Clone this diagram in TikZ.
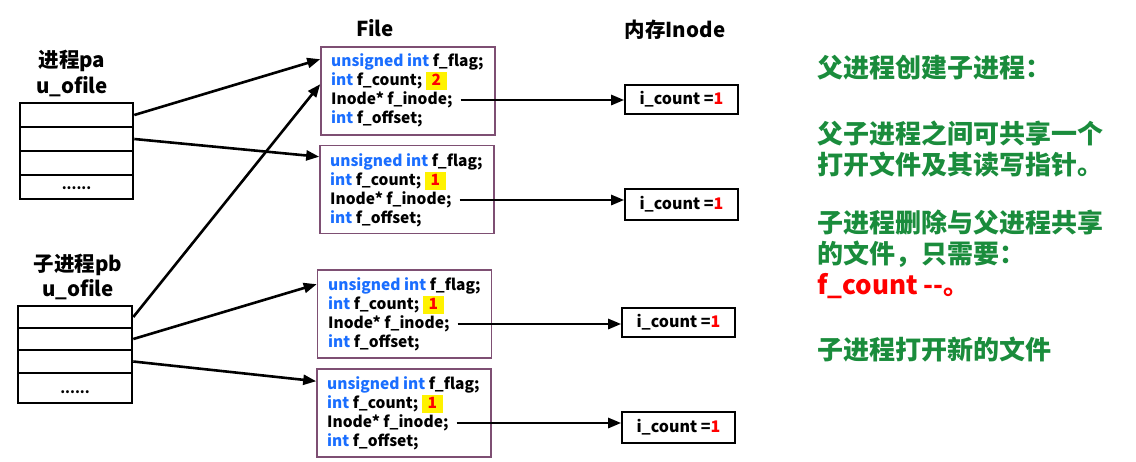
\documentclass[tikz,border=0pt]{standalone}
\usepackage{fontspec}
\setmainfont{Noto Sans CJK SC}
\usetikzlibrary{arrows.meta,calc}
\definecolor{boxpurple}{HTML}{7E4F73}
\definecolor{kwblue}{HTML}{1A6EFF}
\definecolor{txtgreen}{HTML}{1A8C3C}
\newcommand{\kw}[1]{\textcolor{kwblue}{#1}}
\newcommand{\hlnum}[1]{{\fboxsep=0.5pt\colorbox{yellow}{\rule[-4.5pt]{0pt}{17pt}\makebox[20pt]{\textcolor{red}{#1}}}}}
\tikzset{
  cell/.style={draw=black, line width=2.6pt, minimum width=113pt, inner sep=0pt},
  filebox/.style={draw=boxpurple, line width=1.6pt, minimum width=174pt, minimum height=88pt, inner sep=0pt},
  codeline/.style={anchor=west, inner sep=0pt, font=\fontsize{15.5}{18}\selectfont\bfseries},
  inodebox/.style={draw=black, line width=1.6pt, minimum width=113pt, minimum height=29pt, inner sep=0pt, font=\fontsize{16}{19}\selectfont\bfseries},
  title/.style={inner sep=0pt, font=\fontsize{20.5}{24}\selectfont\bfseries},
  rtext/.style={anchor=west, inner sep=0pt, text=txtgreen, font=\fontsize{26}{30}\selectfont\bfseries},
  arr/.style={line width=2.6pt, -{Triangle[length=13pt,width=10pt]}},
}
\begin{document}
\begin{tikzpicture}[x=1pt,y=-1pt]
\useasboundingbox (0,0) rectangle (1136,461);
% titles
\node[title] (tfile) at (375,28) {File};
\node[title] (tinode) at (675,30) {内存Inode};
% process pa
\node[title] (lpa1) at (72,61) {进程pa};
\node[title] (lpa2) at (72,87) {u\_ofile};
\node[cell, minimum height=24pt] (pa1) at (76.5,115) {};
\node[cell, minimum height=24pt] (pa2) at (76.5,139) {};
\node[cell, minimum height=24pt] (pa3) at (76.5,163) {};
\node[cell, minimum height=24pt] (pa4) at (76.5,187) {};
\node[inner sep=0pt, font=\fontsize{14}{16}\selectfont\bfseries] (pad) at (76.5,188) {......};
% process pb
\node[title] (lpb1) at (78,265) {子进程pb};
\node[title] (lpb2) at (78,290) {u\_ofile};
\node[cell, minimum height=22pt, minimum width=114pt] (pb1) at (75,317) {};
\node[cell, minimum height=22pt, minimum width=114pt] (pb2) at (75,339) {};
\node[cell, minimum height=23pt, minimum width=114pt] (pb3) at (75,361.5) {};
\node[cell, minimum height=30pt, minimum width=114pt] (pb4) at (75,388) {};
\node[inner sep=0pt, font=\fontsize{14}{16}\selectfont\bfseries] (pbd) at (75,392) {......};
% file boxes
\node[filebox] (f1) at (408,91) {};
\node[filebox] (f2) at (407,189.5) {};
\node[filebox] (f3) at (404.5,314) {};
\node[filebox] (f4) at (404,413) {};
% file box 1 lines
\node[codeline] (a1) at (331,62) {\kw{unsigned int} f\_flag;};
\node[codeline] (b1) at (331,81) {\kw{int} f\_count; \hlnum{2}};
\node[codeline] (c1) at (331,100) {Inode* f\_inode;};
\node[codeline] (d1) at (331,119) {\kw{int} f\_offset;};
% file box 2 lines
\node[codeline] (a2) at (330,162) {\kw{unsigned int} f\_flag;};
\node[codeline] (b2) at (330,181) {\kw{int} f\_count; \hlnum{1}};
\node[codeline] (c2) at (330,200) {Inode* f\_inode;};
\node[codeline] (d2) at (330,219) {\kw{int} f\_offset;};
% file box 3 lines
\node[codeline] (a3) at (328,286) {\kw{unsigned int} f\_flag;};
\node[codeline] (b3) at (328,305) {\kw{int} f\_count; \hlnum{1}};
\node[codeline] (c3) at (328,324) {Inode* f\_inode;};
\node[codeline] (d3) at (328,343) {\kw{int} f\_offset;};
% file box 4 lines
\node[codeline] (a4) at (327,385) {\kw{unsigned int} f\_flag;};
\node[codeline] (b4) at (327,404) {\kw{int} f\_count; \hlnum{1}};
\node[codeline] (c4) at (327,423) {Inode* f\_inode;};
\node[codeline] (d4) at (327,442) {\kw{int} f\_offset;};
% inode boxes
\node[inodebox] (i1) at (681.5,99.5) {i\_count =\textcolor{red}{1}};
\node[inodebox, minimum height=31pt] (i2) at (681.5,204.5) {i\_count =\textcolor{red}{1}};
\node[inodebox] (i3) at (678.5,322.5) {i\_count =\textcolor{red}{1}};
\node[inodebox, minimum height=31pt] (i4) at (678.5,427.5) {i\_count =\textcolor{red}{1}};
% inode arrows
\draw[arr] ([xshift=8pt]c1.east) -- (c1.east -| i1.west);
\draw[arr] ([xshift=8pt]c2.east) -- (c2.east -| i2.west);
\draw[arr] ([xshift=8pt]c3.east) -- (c3.east -| i3.west);
\draw[arr] ([xshift=8pt]c4.east) -- (c4.east -| i4.west);
% table arrows
\draw[arr] (pa1.east) -- ([yshift=-13pt]f1.north west);
\draw[arr] (pa2.east) -- ([yshift=-12pt]f2.north west);
\draw[arr] (pb1.east) -- ([yshift=-38pt]f1.north west);
\draw[arr] (pb2.east) -- ([yshift=-15pt]f3.north west);
\draw[arr] (pb3.east) -- ([yshift=-13pt]f4.north west);
% right text
\node[rtext] (r1) at (817,68) {父进程创建子进程：};
\node[rtext] (r2) at (817,133) {父子进程之间可共享一个};
\node[rtext] (r3) at (817,165) {打开文件及其读写指针。};
\node[rtext] (r4) at (817,223) {子进程删除与父进程共享};
\node[rtext] (r5) at (817,254) {的文件，只需要：};
\node[rtext, text=red] (r6) at (817,286) {f\_count -{}-。};
\node[rtext] (r7) at (817,350) {子进程打开新的文件};
\end{tikzpicture}
\end{document}
